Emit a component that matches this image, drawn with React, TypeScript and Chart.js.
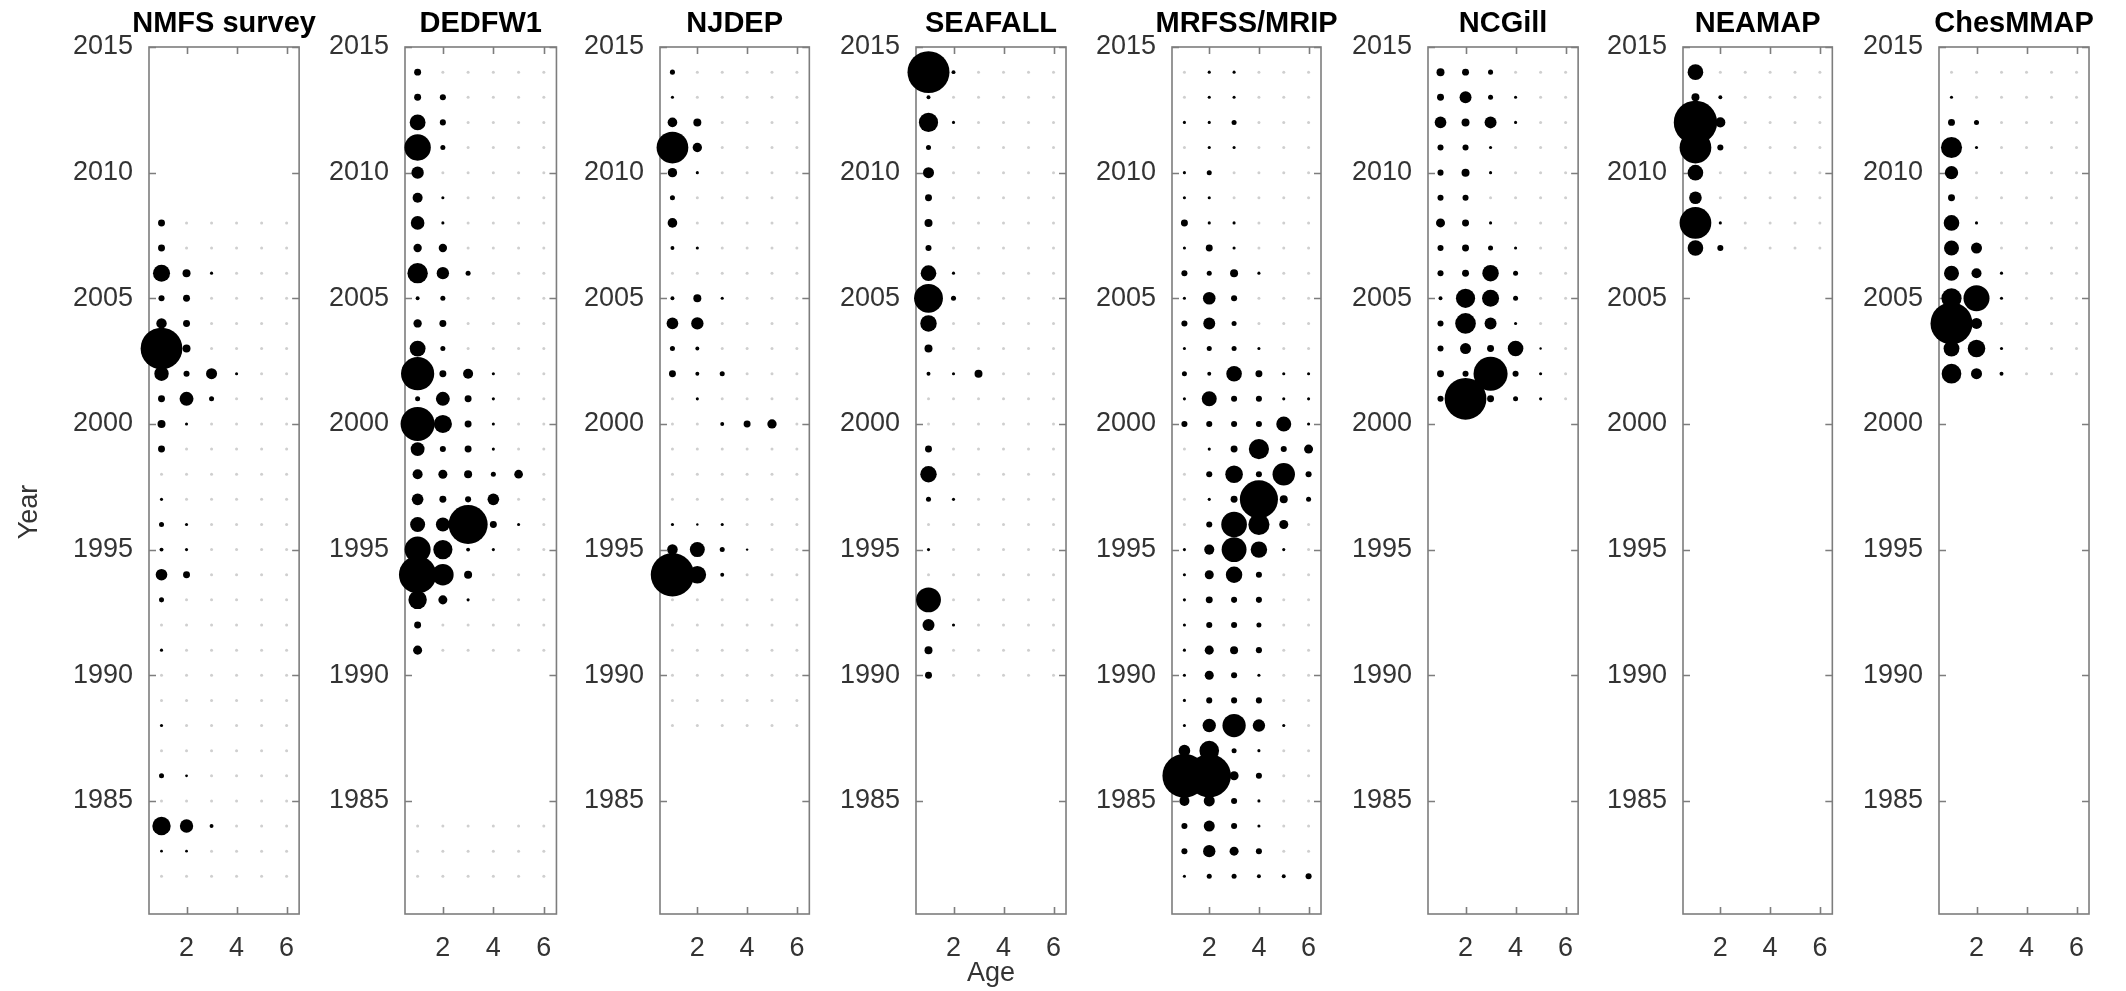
import React, { useEffect, useRef } from "react";
import { Chart, registerables } from "chart.js";

Chart.register(...registerables);

// ---- Data: relative catch-at-age index (bubble area ∝ value) ----
const AGES = [1, 2, 3, 4, 5, 6];
const AGE_TICKS = [2, 4, 6];
const YEAR_TICKS = [1985, 1990, 1995, 2000, 2005, 2010, 2015];

const NMFS_YEARS = [1982, 1983, 1984, 1985, 1986, 1987, 1988, 1989, 1990, 1991, 1992, 1993, 1994, 1995, 1996, 1997, 1998, 1999, 2000, 2001, 2002, 2003, 2004, 2005, 2006, 2007, 2008];
const NMFS_VALUES = [
  [0, 0, 0, 0, 0, 0],
  [0.4, 0.4, 0, 0, 0, 0],
  [17.5, 9.2, 0.8, 0, 0, 0],
  [0, 0, 0, 0, 0, 0],
  [1.3, 0.4, 0, 0, 0, 0],
  [0, 0, 0, 0, 0, 0],
  [0.5, 0, 0, 0, 0, 0],
  [0, 0, 0, 0, 0, 0],
  [0, 0, 0, 0, 0, 0],
  [0.5, 0, 0, 0, 0, 0],
  [0, 0, 0, 0, 0, 0],
  [1.3, 0, 0, 0, 0, 0],
  [7, 2.5, 0, 0, 0, 0],
  [0.8, 0.5, 0, 0, 0, 0],
  [1.3, 0.5, 0, 0, 0, 0],
  [0.5, 0, 0, 0, 0, 0],
  [0, 0, 0, 0, 0, 0],
  [2.5, 0, 0, 0, 0, 0],
  [3.3, 0.5, 0, 0, 0, 0],
  [2.5, 10, 1.3, 0, 0, 0],
  [10.7, 1.9, 6.3, 0.5, 0, 0],
  [90, 3.3, 0, 0, 0, 0],
  [5.6, 2.5, 0, 0, 0, 0],
  [1.9, 2.5, 0, 0, 0, 0],
  [15, 3.3, 0.5, 0, 0, 0],
  [2.5, 0, 0, 0, 0, 0],
  [2.5, 0, 0, 0, 0, 0],
];

const DEDFW1_YEARS = [1982, 1983, 1984, 1991, 1992, 1993, 1994, 1995, 1996, 1997, 1998, 1999, 2000, 2001, 2002, 2003, 2004, 2005, 2006, 2007, 2008, 2009, 2010, 2011, 2012, 2013, 2014];
const DEDFW1_VALUES = [
  [0, 0, 0, 0, 0, 0],
  [0, 0, 0, 0, 0, 0],
  [0, 0, 0, 0, 0, 0],
  [4.2, 0, 0, 0, 0, 0],
  [2.5, 0, 0, 0, 0, 0],
  [17.5, 4.2, 0.5, 0, 0, 0],
  [72, 24, 3.3, 0, 0, 0],
  [35, 19, 0.8, 0.5, 0, 0],
  [11.6, 10, 79, 2.5, 0.5, 0],
  [7, 2.5, 1.9, 7, 0, 0],
  [5.2, 4.2, 3.3, 1.3, 3.9, 0],
  [10, 1.9, 2.5, 0.5, 0, 0],
  [60, 17, 2.5, 0.5, 0, 0],
  [1.3, 10, 2.5, 0.5, 0, 0],
  [57, 2.5, 5.2, 0.5, 0, 0],
  [13, 1.3, 0, 0, 0, 0],
  [3.6, 2.5, 0, 0, 0, 0],
  [0.8, 1.3, 0, 0, 0, 0],
  [21.5, 7.9, 1.3, 0, 0, 0],
  [3.6, 3.6, 0, 0, 0, 0],
  [9.6, 0.5, 0, 0, 0, 0],
  [5.2, 0.5, 0, 0, 0, 0],
  [7.9, 0, 0, 0, 0, 0],
  [36, 1.3, 0, 0, 0, 0],
  [13, 1.9, 0, 0, 0, 0],
  [2.5, 1.9, 0, 0, 0, 0],
  [2.5, 0, 0, 0, 0, 0],
];

const NJDEP_YEARS = [1988, 1989, 1990, 1991, 1992, 1993, 1994, 1995, 1996, 1997, 1998, 1999, 2000, 2001, 2002, 2003, 2004, 2005, 2006, 2007, 2008, 2009, 2010, 2011, 2012, 2013, 2014];
const NJDEP_VALUES = [
  [0, 0, 0, 0, 0, 0],
  [0, 0, 0, 0, 0, 0],
  [0, 0, 0, 0, 0, 0],
  [0, 0, 0, 0, 0, 0],
  [0, 0, 0, 0, 0, 0],
  [0, 0, 0, 0, 0, 0],
  [97, 16, 0.8, 0, 0, 0],
  [5.8, 11.6, 1.3, 0.3, 0, 0],
  [0.5, 0.3, 0.5, 0, 0, 0],
  [0, 0, 0, 0, 0, 0],
  [0, 0, 0, 0, 0, 0],
  [0, 0, 0, 0, 0, 0],
  [0, 0, 0.8, 2.5, 4.5, 0],
  [0, 0.5, 0, 0, 0, 0],
  [2.5, 0.8, 1.3, 0, 0, 0],
  [1.3, 0.8, 0, 0, 0, 0],
  [7, 7.9, 0, 0, 0, 0],
  [0.8, 3.3, 0.5, 0, 0, 0],
  [0, 0, 0, 0, 0, 0],
  [0.8, 0.5, 0, 0, 0, 0],
  [4.8, 0, 0, 0, 0, 0],
  [1.3, 0, 0, 0, 0, 0],
  [4.5, 0.5, 0, 0, 0, 0],
  [52, 4.5, 0, 0, 0, 0],
  [4.8, 3.3, 0, 0, 0, 0],
  [0.5, 0, 0, 0, 0, 0],
  [1.3, 0, 0, 0, 0, 0],
];

const SEAFALL_YEARS = [1990, 1991, 1992, 1993, 1994, 1995, 1996, 1997, 1998, 1999, 2000, 2001, 2002, 2003, 2004, 2005, 2006, 2007, 2008, 2009, 2010, 2011, 2012, 2013, 2014];
const SEAFALL_VALUES = [
  [2.5, 0, 0, 0, 0, 0],
  [3.3, 0, 0, 0, 0, 0],
  [7.4, 0.5, 0, 0, 0, 0],
  [32, 0, 0, 0, 0, 0],
  [0, 0, 0, 0, 0, 0],
  [0.5, 0, 0, 0, 0, 0],
  [0, 0, 0, 0, 0, 0],
  [1.3, 0.5, 0, 0, 0, 0],
  [14, 0, 0, 0, 0, 0],
  [2.5, 0, 0, 0, 0, 0],
  [0, 0, 0, 0, 0, 0],
  [0, 0, 0, 0, 0, 0],
  [0.8, 0.5, 3.3, 0, 0, 0],
  [3.3, 0, 0, 0, 0, 0],
  [14, 0, 0, 0, 0, 0],
  [43, 1.3, 0, 0, 0, 0],
  [12.6, 0.5, 0, 0, 0, 0],
  [1.9, 0, 0, 0, 0, 0],
  [3.3, 0, 0, 0, 0, 0],
  [2.5, 0, 0, 0, 0, 0],
  [6.3, 0, 0, 0, 0, 0],
  [1.3, 0, 0, 0, 0, 0],
  [19, 0.5, 0, 0, 0, 0],
  [0.8, 0, 0, 0, 0, 0],
  [91, 0.8, 0, 0, 0, 0],
];

const MRIP_YEARS = [1982, 1983, 1984, 1985, 1986, 1987, 1988, 1989, 1990, 1991, 1992, 1993, 1994, 1995, 1996, 1997, 1998, 1999, 2000, 2001, 2002, 2003, 2004, 2005, 2006, 2007, 2008, 2009, 2010, 2011, 2012, 2013, 2014];
const MRIP_VALUES = [
  [0.5, 1.3, 1.3, 0.8, 0.8, 1.9],
  [1.9, 7.9, 4.2, 1.9, 0, 0],
  [1.9, 6.3, 1.9, 0.5, 0, 0],
  [5.2, 6.3, 1.9, 0.5, 0, 0],
  [100, 97, 4.2, 1.9, 0, 0],
  [7, 20, 1.3, 0.5, 0, 0],
  [0.5, 9.2, 28, 7.9, 0.5, 0],
  [0.5, 1.9, 1.9, 1.9, 0, 0],
  [0.5, 4.2, 1.9, 0.5, 0, 0],
  [0.5, 4.2, 3.3, 1.9, 0, 0],
  [0.5, 1.9, 1.9, 1.3, 0, 0],
  [0.5, 2.5, 1.9, 1.9, 0, 0],
  [0.5, 4.2, 14, 1.9, 0, 0],
  [0.5, 5.2, 32, 14, 0.5, 0],
  [0, 1.9, 34, 23, 4.2, 0],
  [0, 0.5, 2.5, 75, 3.3, 1.3],
  [0, 1.9, 16, 1.9, 26, 1.9],
  [0, 0.5, 2.5, 21, 1.9, 4.2],
  [1.9, 1.9, 1.9, 1.9, 11.6, 0.5],
  [0.5, 11.6, 1.9, 1.9, 0.5, 0.5],
  [1.3, 0.8, 12.6, 2.5, 0.5, 0.5],
  [0.5, 1.3, 1.3, 0.5, 0, 0],
  [1.9, 7.4, 1.3, 0, 0, 0],
  [0.5, 8.2, 1.9, 0, 0, 0],
  [1.9, 1.3, 3.3, 0.5, 0, 0],
  [0.5, 2.5, 0.5, 0, 0, 0],
  [2.5, 0.5, 0.5, 0, 0, 0],
  [0.5, 0.5, 0, 0, 0, 0],
  [0.5, 1.3, 0, 0, 0, 0],
  [0, 0.5, 0.5, 0, 0, 0],
  [0.5, 0.5, 1.3, 0, 0, 0],
  [0, 0.5, 0.5, 0, 0, 0],
  [0, 0.5, 0.5, 0, 0, 0],
];

const NCGILL_YEARS = [2001, 2002, 2003, 2004, 2005, 2006, 2007, 2008, 2009, 2010, 2011, 2012, 2013, 2014];
const NCGILL_VALUES = [
  [1.9, 90, 2.5, 1.3, 0.5, 0],
  [2.5, 1.9, 60, 1.9, 0.5, 0],
  [1.9, 6.3, 2.5, 12.6, 0.3, 0],
  [1.9, 22, 7.4, 0.5, 0, 0],
  [0.8, 19, 15, 1.3, 0, 0],
  [1.9, 2.5, 14, 1.3, 0, 0],
  [1.9, 2.5, 1.3, 0.5, 0, 0],
  [4.2, 2.5, 0.5, 0, 0, 0],
  [1.9, 1.9, 0, 0, 0, 0],
  [1.9, 3.3, 0.5, 0, 0, 0],
  [1.9, 1.9, 0.5, 0, 0, 0],
  [7, 3.3, 7.4, 0.5, 0, 0],
  [2.5, 7.4, 1.3, 0.5, 0, 0],
  [3.3, 2.5, 1.3, 0, 0, 0],
];

const NEAMAP_YEARS = [2007, 2008, 2009, 2010, 2011, 2012, 2013, 2014];
const NEAMAP_VALUES = [
  [12.6, 1.9, 0, 0, 0, 0],
  [52, 0.5, 0, 0, 0, 0],
  [8.2, 0, 0, 0, 0, 0],
  [12.6, 0, 0, 0, 0, 0],
  [52, 1.9, 0, 0, 0, 0],
  [97, 5.2, 0, 0, 0, 0],
  [3.3, 0.8, 0, 0, 0, 0],
  [12.6, 0, 0, 0, 0, 0],
];

const CHESMMAP_YEARS = [2002, 2003, 2004, 2005, 2006, 2007, 2008, 2009, 2010, 2011, 2012, 2013, 2014];
const CHESMMAP_VALUES = [
  [20, 6.3, 0.8, 0, 0, 0],
  [13, 16, 0.5, 0, 0, 0],
  [91, 6.3, 0, 0, 0, 0],
  [21, 35, 0.5, 0, 0, 0],
  [11.6, 5.2, 0.5, 0, 0, 0],
  [11.6, 6.3, 0, 0, 0, 0],
  [12.6, 0.5, 0, 0, 0, 0],
  [2.5, 0, 0, 0, 0, 0],
  [9.2, 0, 0, 0, 0, 0],
  [23, 0.5, 0, 0, 0, 0],
  [2.5, 1.3, 0, 0, 0, 0],
  [0.5, 0, 0, 0, 0, 0],
  [0, 0, 0, 0, 0, 0],
];

const SURVEYS = [
  { name: "NMFS survey", years: NMFS_YEARS, values: NMFS_VALUES },
  { name: "DEDFW1", years: DEDFW1_YEARS, values: DEDFW1_VALUES },
  { name: "NJDEP", years: NJDEP_YEARS, values: NJDEP_VALUES },
  { name: "SEAFALL", years: SEAFALL_YEARS, values: SEAFALL_VALUES },
  { name: "MRFSS/MRIP", years: MRIP_YEARS, values: MRIP_VALUES },
  { name: "NCGill", years: NCGILL_YEARS, values: NCGILL_VALUES },
  { name: "NEAMAP", years: NEAMAP_YEARS, values: NEAMAP_VALUES },
  { name: "ChesMMAP", years: CHESMMAP_YEARS, values: CHESMMAP_VALUES },
];

// ---- Layout / style ----
const FIG_W = 2126;
const FIG_H = 991;
const FIRST_LEFT = 149;
const PANEL_STEP = 255.7;
const PANEL_W = 165;
const PLOT_TOP = 47;
const PLOT_BOTTOM = 914;
const AXIS_W = 149;
const RIGHT_PAD = 6;
const TICK_LEN = 7;
const FONT = "'Liberation Sans', Arial, Helvetica, sans-serif";
const TEXT_COLOR = "#333333";
const BOX_COLOR = "#7d7d7d";
const EMPTY_COLOR = "#cfcfcf";
const RADIUS_SCALE = 2.2;
const Y_LABEL = { text: "Year", x: 30, y: 512 };

const bubbleRadius = (v: number) => RADIUS_SCALE * Math.sqrt(v);

// Axes box with inward ticks on all four sides, plus the panel title
const boxPlugin = {
  id: "boxAndTitle",
  beforeDatasetsDraw(chart: any) {
    const { ctx, chartArea, scales } = chart;
    const { left, right, top, bottom } = chartArea;
    ctx.save();
    ctx.strokeStyle = BOX_COLOR;
    ctx.lineWidth = 1.6;
    ctx.strokeRect(left, top, right - left, bottom - top);
    ctx.beginPath();
    for (const t of scales.y.ticks) {
      const py = Math.round(scales.y.getPixelForValue(t.value)) + 0.5;
      ctx.moveTo(left, py);
      ctx.lineTo(left + TICK_LEN, py);
      ctx.moveTo(right, py);
      ctx.lineTo(right - TICK_LEN, py);
    }
    for (const t of scales.x.ticks) {
      const px = Math.round(scales.x.getPixelForValue(t.value)) + 0.5;
      ctx.moveTo(px, bottom);
      ctx.lineTo(px, bottom - TICK_LEN);
      ctx.moveTo(px, top);
      ctx.lineTo(px, top + TICK_LEN);
    }
    ctx.stroke();
    ctx.restore();
  },
  afterDraw(chart: any) {
    const { ctx, chartArea } = chart;
    const opts = chart.options.plugins.panelTitle || {};
    ctx.save();
    if (opts.text) {
      ctx.fillStyle = "#000";
      ctx.font = `bold 29px ${FONT}`;
      ctx.textAlign = "center";
      ctx.textBaseline = "middle";
      ctx.fillText(opts.text, (chartArea.left + chartArea.right) / 2, 24);
    }
    if (opts.yLabel) {
      ctx.fillStyle = TEXT_COLOR;
      ctx.font = `27px ${FONT}`;
      ctx.textAlign = "center";
      ctx.textBaseline = "middle";
      ctx.translate(opts.yLabel.x, opts.yLabel.y);
      ctx.rotate(-Math.PI / 2);
      ctx.fillText(opts.yLabel.text, 0, 0);
    }
    ctx.restore();
  },
};

function Panel({ index }: { index: number }) {
  const ref = useRef<HTMLCanvasElement | null>(null);
  const survey = SURVEYS[index];
  const panelLeft = Math.round(FIRST_LEFT + index * PANEL_STEP);
  const canvasLeft = panelLeft - AXIS_W;
  const canvasW = AXIS_W + PANEL_W + RIGHT_PAD;

  useEffect(() => {
    if (!ref.current) return;
    const empty: { x: number; y: number; r: number }[] = [];
    const filled: { x: number; y: number; r: number }[] = [];
    survey.years.forEach((year, i) => {
      AGES.forEach((age, j) => {
        const v = survey.values[i][j];
        if (v > 0) filled.push({ x: age, y: year, r: bubbleRadius(v) });
        else empty.push({ x: age, y: year, r: 1.5 });
      });
    });

    const tickFont = { family: FONT, size: 27 };
    const chart = new Chart(ref.current, {
      type: "bubble",
      data: {
        datasets: [
          { data: empty, backgroundColor: EMPTY_COLOR, borderWidth: 0, clip: false } as any,
          { data: filled, backgroundColor: "#000000", borderWidth: 0, clip: false } as any,
        ],
      },
      options: {
        responsive: false,
        animation: false,
        events: [],
        layout: { padding: { top: PLOT_TOP, right: RIGHT_PAD, left: 0, bottom: 0 } },
        plugins: {
          legend: { display: false },
          tooltip: { enabled: false },
          title: { display: false },
          panelTitle: { text: survey.name, yLabel: index === 0 ? Y_LABEL : null },
        } as any,
        scales: {
          x: {
            type: "linear",
            min: 0.5,
            max: 6.5,
            afterBuildTicks: (s: any) => {
              s.ticks = AGE_TICKS.map((value) => ({ value }));
            },
            afterFit: (s: any) => {
              s.height = FIG_H - PLOT_BOTTOM;
            },
            grid: { display: false, drawTicks: false },
            border: { display: false },
            ticks: {
              color: TEXT_COLOR,
              font: tickFont,
              padding: 18,
              maxRotation: 0,
              autoSkip: false,
              callback: (v: any) => String(v),
            },
            title: {
              display: index === 3,
              text: "Age",
              color: TEXT_COLOR,
              font: { family: FONT, size: 27 },
              padding: { top: 0, bottom: 1 },
            },
          },
          y: {
            type: "linear",
            min: 1980.5,
            max: 2015,
            afterBuildTicks: (s: any) => {
              s.ticks = YEAR_TICKS.map((value) => ({ value }));
            },
            afterFit: (s: any) => {
              s.width = AXIS_W;
            },
            grid: { display: false, drawTicks: false },
            border: { display: false },
            ticks: {
              color: TEXT_COLOR,
              font: tickFont,
              padding: 16,
              autoSkip: false,
              callback: (v: any) => String(v),
            },
          },
        },
      } as any,
      plugins: [boxPlugin],
    });
    return () => chart.destroy();
  }, [index]);

  return (
    <canvas
      ref={ref}
      width={canvasW}
      height={FIG_H}
      style={{ position: "absolute", left: canvasLeft, top: 0, width: canvasW, height: FIG_H }}
    />
  );
}

export default function App() {
  return (
    <div
      style={{
        position: "absolute",
        left: 0,
        top: 0,
        width: FIG_W,
        height: FIG_H,
        background: "#ffffff",
        overflow: "hidden",
      }}
    >
      {SURVEYS.map((s, i) => (
        <Panel key={s.name} index={i} />
      ))}
    </div>
  );
}
